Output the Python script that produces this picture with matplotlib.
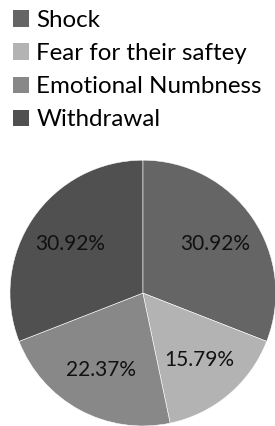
import matplotlib.pyplot as plt
from matplotlib.patches import Patch

# Data
labels = ['Shock', 'Fear for their saftey', 'Emotional Numbness', 'Withdrawal']
values = [30.92, 15.79, 22.37, 30.92]
colors = ['#656565', '#b3b3b3', '#888888', '#505050']

plt.rcParams['font.family'] = ['Lato', 'DejaVu Sans']

fig = plt.figure(figsize=(2.75, 4.26), dpi=100)
ax = fig.add_axes([0.036, 0.0, 0.967, 0.624])

wedges, texts, autotexts = ax.pie(values, colors=colors, startangle=90, counterclock=False,
                                  autopct='%.2f%%', pctdistance=0.66,
                                  wedgeprops=dict(edgecolor='white', linewidth=0.4),
                                  textprops=dict(fontsize=15, color='#111111'))
ax.set_xlim(-1, 1)
ax.set_ylim(-1, 1)
ax.set_aspect('equal')

# Legend on top
handles = [Patch(facecolor=c, edgecolor='none') for c in colors]
fig.legend(handles, labels, loc='upper left', bbox_to_anchor=(13 / 275, 1 - 10 / 426),
           frameon=False, fontsize=17.4, handlelength=0.66, handleheight=0.66,
           handletextpad=0.3, labelspacing=0.5, borderaxespad=0, borderpad=0)

fig.savefig('out.png', dpi=100)
